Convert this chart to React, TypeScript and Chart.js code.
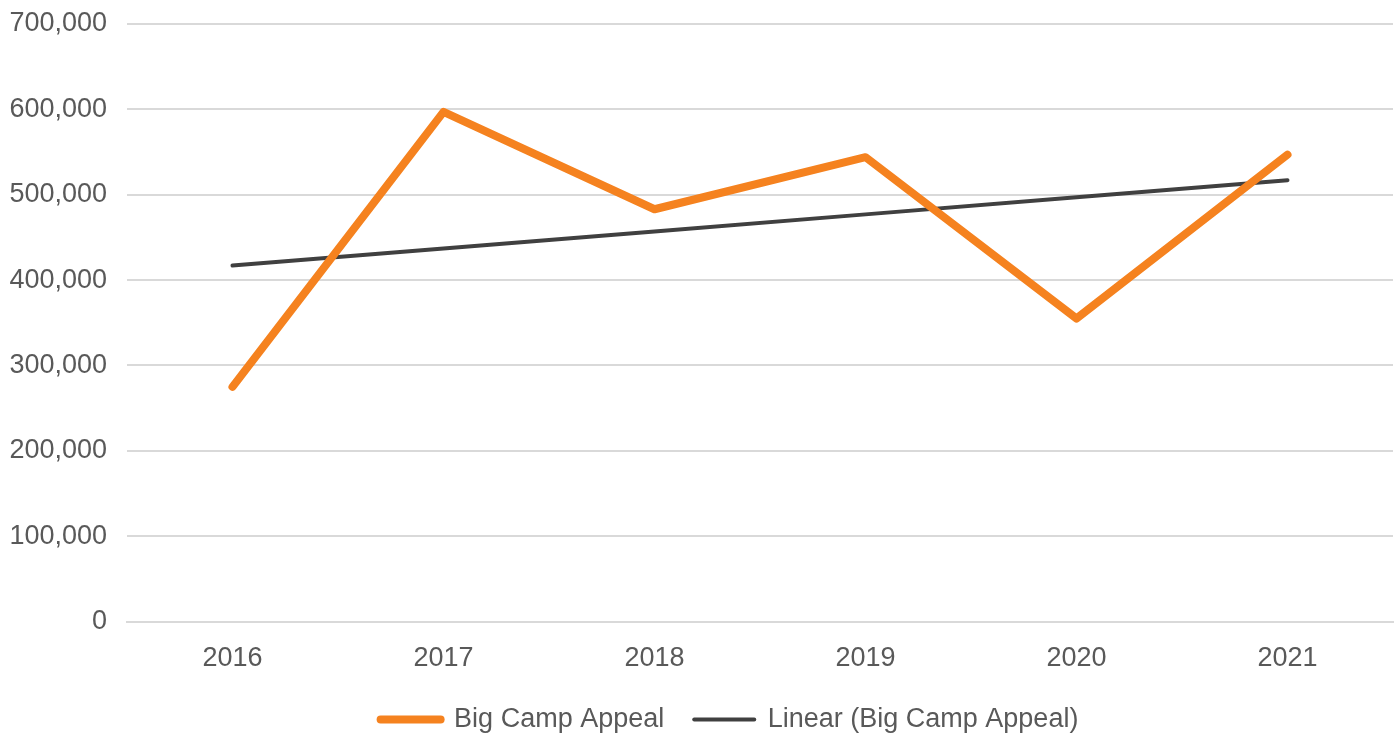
import React, { useEffect, useRef } from "react";
import { Chart, registerables } from "chart.js";

Chart.register(...registerables);

const categories = ["2016", "2017", "2018", "2019", "2020", "2021"];
const appealValues = [275000, 597000, 483000, 544000, 355000, 547000];
const trendValues = [417000, 437000, 457000, 477000, 497000, 517000];
const yTicks = [0, 100000, 200000, 300000, 400000, 500000, 600000, 700000];

const FONT = "'Liberation Sans', Arial, sans-serif";
const TEXT = "#595959";
const GRID = "#d9d9d9";
const ORANGE = "#f5821f";
const DARK = "#404040";

const legendShift = {
  id: "legendShift",
  afterLayout(chart: any) {
    if (chart.legend) {
      chart.legend.left += 29;
      chart.legend.right += 29;
    }
  },
};

export default function App() {
  const ref = useRef<HTMLCanvasElement | null>(null);
  useEffect(() => {
    if (!ref.current) return;
    const chart = new Chart(ref.current, {
      type: "line",
      data: {
        labels: categories,
        datasets: [
          {
            label: "Big Camp Appeal",
            data: appealValues,
            borderColor: ORANGE,
            backgroundColor: ORANGE,
            borderWidth: 8,
            borderCapStyle: "round",
            borderJoinStyle: "round",
            pointRadius: 0,
            tension: 0,
          },
          {
            label: "Linear (Big Camp Appeal)",
            data: trendValues,
            borderColor: DARK,
            backgroundColor: DARK,
            borderWidth: 4,
            borderCapStyle: "round",
            pointRadius: 0,
            tension: 0,
          },
        ],
      },
      plugins: [legendShift],
      options: {
        animation: false,
        responsive: true,
        maintainAspectRatio: false,
        layout: { padding: { left: 8, right: 6, top: 24, bottom: -10 } },
        plugins: {
          tooltip: { enabled: false },
          legend: {
            position: "bottom",
            labels: {
              font: { family: FONT, size: 27 },
              color: TEXT,
              usePointStyle: true,
              pointStyleWidth: 60,
              boxHeight: 8,
              padding: 30,
              generateLabels: (c: any) =>
                c.data.datasets.map((ds: any, i: number) => ({
                  text: ds.label,
                  fillStyle: ds.borderColor,
                  strokeStyle: ds.borderColor,
                  lineWidth: ds.borderWidth,
                  lineCap: "round",
                  pointStyle: "line",
                  datasetIndex: i,
                  fontColor: TEXT,
                  hidden: false,
                })),
            },
          },
        },
        scales: {
          x: {
            offset: true,
            grid: { display: false, drawTicks: false },
            border: { display: true, color: GRID, width: 2 },
            ticks: { font: { family: FONT, size: 27 }, color: TEXT, padding: 21 },
            afterFit: (s: any) => {
              s.height = s.height - 20;
            },
          },
          y: {
            min: 0,
            max: 700000,
            afterBuildTicks: (s: any) => {
              s.ticks = yTicks.map((v) => ({ value: v }));
            },
            afterFit: (s: any) => {
              s.width = 119;
              s.paddingTop = 0;
            },
            grid: { color: GRID, lineWidth: 2, drawTicks: false },
            border: { display: false },
            ticks: {
              font: { family: FONT, size: 27 },
              color: TEXT,
              padding: 20,
              callback: (v: any) => Number(v).toLocaleString("en-US"),
            },
          },
        },
      },
    } as any);
    return () => chart.destroy();
  }, []);
  return (
    <div style={{ position: "absolute", left: 0, top: 0, width: 1399, height: 733 }}>
      <canvas ref={ref} />
    </div>
  );
}
